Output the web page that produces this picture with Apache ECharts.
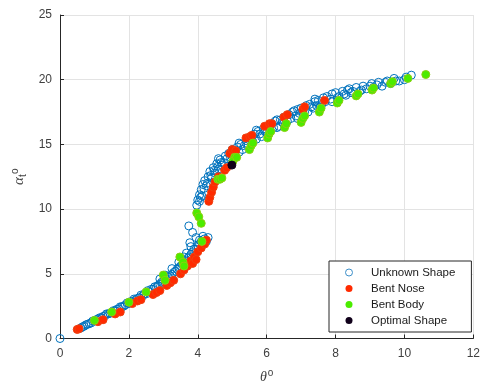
<!DOCTYPE html>
<html>
<head>
<meta charset="utf-8">
<script src="https://cdn.jsdelivr.net/npm/echarts@6/dist/echarts.min.js"></script>
<style>html,body{margin:0;padding:0;background:#fff;}#c{width:483px;height:389px;}</style>
</head>
<body>
<div id="c"></div>
<script>
// ---- data ----
const xTicks = [0, 2, 4, 6, 8, 10, 12];
const yTicks = [0, 5, 10, 15, 20, 25];
const seriesNames = ['Unknown Shape', 'Bent Nose', 'Bent Body', 'Optimal Shape'];

const unknownShape = [
  [0,0],
  [0.6,0.8],[0.7,0.95],[0.8,1.1],[0.9,1.2],[1.0,1.35],[1.1,1.5],[1.2,1.6],[1.3,1.75],[1.4,1.9],[1.5,2.0],
  [1.6,2.15],[1.7,2.3],[1.8,2.45],[1.9,2.6],[2.0,2.7],[2.1,2.85],[2.2,3.0],[2.3,3.15],[2.4,3.3],[2.5,3.45],
  [2.6,3.6],[2.7,3.8],[2.8,4.0],[2.9,4.2],[3.0,4.4],[3.1,4.6],[3.2,4.85],[3.3,5.1],[3.4,5.35],[3.5,5.6],
  [3.6,5.9],[3.7,6.2],[3.8,6.5],[3.9,6.9],[4.0,7.2],[4.1,7.5],[4.2,7.7],[4.3,7.8],
  [0.75,1.05],[0.95,1.35],[1.15,1.6],[1.35,1.9],[1.55,2.15],[1.75,2.45],[1.95,2.75],[2.15,3.05],[2.35,3.35],
  [2.55,3.7],[2.75,4.0],[2.95,4.35],[3.15,4.75],[3.35,5.2],[3.55,5.7],[3.75,6.3],[3.95,6.9],
  [2.9,4.6],[3.05,4.9],[3.25,5.4],[3.45,5.9],[3.6,6.3],
  [0.65,0.9],[0.85,1.15],[1.05,1.45],[1.25,1.7],[1.45,1.95],[1.65,2.25],[1.85,2.5],[2.05,2.85],[2.25,3.1],
  [2.45,3.45],[2.65,3.8],[2.85,4.1],[3.05,4.5],[3.25,4.95],[3.45,5.45],[3.65,6.0],[3.85,6.7],[4.05,7.3],[4.25,7.5],
  [3.74,8.7],[3.85,8.2],[3.77,7.4],[4.15,7.9],[4.05,7.6],[3.95,7.8],[3.67,6.6],[3.8,7.1],
  [3.97,10.3],[4.0,10.7],[4.05,11.1],[4.1,11.5],[4.15,11.9],[4.2,12.2],[4.3,12.5],[4.35,12.9],[4.45,13.2],
  [4.5,12.8],[4.55,13.5],[4.65,13.8],[4.7,13.4],[4.8,14.1],[4.9,14.3],[5.0,14.6],[5.05,14.2],[5.15,14.8],
  [5.25,15.0],[5.3,14.6],[5.4,15.3],[5.5,15.5],[5.6,15.2],[5.65,15.8],[5.75,16.0],[5.85,15.6],[5.9,16.2],
  [6.0,16.4],[6.1,16.1],[6.15,16.6],[6.25,16.8],[6.35,16.4],[6.4,16.9],[6.5,17.1],[6.6,16.8],[6.65,17.3],
  [6.75,17.5],[6.85,17.2],[6.9,17.7],[7.0,17.8],[7.1,17.5],[7.15,18.0],[7.25,18.1],[7.35,17.8],[7.4,18.3],
  [7.5,18.4],[7.6,18.1],[7.65,18.6],[7.75,18.7],[7.85,18.5],[7.9,18.9],[8.0,19.0],[8.1,18.7],[8.2,19.1],
  [8.35,19.2],[8.5,19.1],[8.6,19.4],[8.8,19.5],[8.9,19.3],[9.05,19.7],[9.25,19.8],[9.35,19.5],[9.5,19.9],
  [9.7,20.1],[9.85,19.9],[10.2,20.35],
  [4.05,10.6],[4.12,11.0],[4.25,11.8],[4.4,12.4],[4.6,13.1],[4.75,13.6],[4.95,14.0],[5.2,14.4],[5.45,14.9],
  [5.7,15.4],[6.0,15.9],[6.3,16.3],[6.55,16.6],[6.9,17.0],[7.2,17.5],[7.55,17.9],[7.9,18.3],[8.3,18.8],
  [8.7,19.1],[9.1,19.4],[9.6,19.7],[10.0,20.0],
  [4.08,10.9],[4.18,11.6],[4.28,12.0],[4.38,12.6],[4.48,13.0],[4.58,13.3],[4.68,13.6],[4.85,13.9],[5.1,14.5],
  [5.35,14.9],[5.55,15.4],[5.8,15.8],[5.95,16.0],[6.2,16.3],[6.45,16.7],[6.7,17.0],[6.95,17.4],[7.05,17.6],
  [7.3,17.9],[7.45,18.0],[7.7,18.3],[8.05,18.6],[8.25,18.9],[8.45,19.0],[8.75,19.2],[9.0,19.5],[9.2,19.6],
  [9.45,19.8],[9.75,19.9],[10.05,20.2],
  [4.6,13.9],[5.2,15.1],[5.7,16.1],[6.3,16.9],[6.8,17.6],[7.4,18.5],[8.4,19.3]
];

const bentNose = [
  [0.5,0.7],[0.55,0.75],[1.1,1.3],[1.25,1.45],[1.6,1.9],[1.75,2.05],[2.1,2.7],[2.25,2.9],[2.35,3.0],
  [2.7,3.4],[2.8,3.55],[2.9,3.7],[3.1,4.1],[3.2,4.3],[3.3,4.5],[3.5,5.0],[3.6,5.3],[3.7,5.6],[3.8,6.0],
  [3.85,5.8],[3.9,6.3],[3.95,6.1],[4.0,6.7],[4.1,7.0],[4.2,7.3],[4.25,7.6],
  [4.32,10.6],[4.35,10.9],[4.4,11.3],[4.45,11.7],[4.5,12.1],[4.6,12.5],[4.78,13.0],[4.84,13.2],
  [4.93,14.3],[5.0,14.6],[5.1,14.5],[5.4,15.5],[5.51,15.6],[5.57,15.7],[5.94,16.4],[6.08,16.6],[6.15,16.6],
  [6.5,17.1],[6.6,17.3],[7.05,17.7],[7.1,17.9],[7.68,18.4]
];

const bentBody = [
  [1.0,1.4],[1.5,2.05],[2.0,2.8],[2.5,3.6],[3.0,4.9],[3.05,4.5],[3.48,6.3],[3.57,5.9],[3.6,5.6],[4.12,7.5],
  [3.97,9.7],[4.03,9.4],[4.1,8.9],[4.58,12.3],[4.64,12.3],[4.7,12.4],[5.07,14.0],[5.02,13.7],[5.13,14.0],
  [5.5,14.6],[5.55,14.9],[5.6,15.1],[6.03,15.5],[6.07,15.8],[6.12,16.0],[6.52,16.3],[6.57,16.6],
  [7.0,16.7],[7.05,17.0],[7.1,17.2],[7.53,17.5],[7.58,17.8],[8.05,18.2],[8.1,18.4],[8.6,18.75],[8.65,18.9],
  [9.06,19.2],[9.1,19.35],[9.6,19.7],[9.65,19.85],[10.1,20.1],[10.62,20.4]
];

const optimalShape = [[4.99,13.4]];

// ---- chart ----
const chart = echarts.init(document.getElementById('c'), null, {renderer: 'canvas'});
const tickFont = {fontFamily: 'Liberation Sans, Arial, sans-serif', fontSize: 12, color: '#404040'};
const gridColor = '#e3e3e3';
const axisColor = '#262626';
const colors = {
  unknown: '#0072BD',
  nose: '#ff2a00', noseEdge: '#f04010',
  body: '#4bec00', bodyEdge: '#8ccf10',
  optimal: '#10001a'
};

function mk(name, data, color, border, z) {
  return {
    name: name, type: 'scatter', data: data, symbol: 'circle', symbolSize: 8, z: z,
    itemStyle: {color: color, borderColor: border, borderWidth: 1, opacity: 1},
    emphasis: {disabled: true}
  };
}

chart.setOption({
  animation: false,
  backgroundColor: '#fff',
  grid: {left: 60, right: 8, top: 15, bottom: 50, containLabel: false},
  xAxis: {
    type: 'value', min: xTicks[0], max: xTicks[xTicks.length - 1], interval: 2,
    name: '{t|θ}{s|o}', nameLocation: 'middle', nameGap: 30,
    nameTextStyle: {rich: {
      t: {fontFamily: 'Liberation Serif, serif', fontStyle: 'italic', fontSize: 14, color: '#404040'},
      s: {fontFamily: 'Liberation Sans, sans-serif', fontSize: 10, color: '#404040', padding: [0, 0, 7, 1]}
    }},
    axisLine: {show: true, lineStyle: {color: axisColor, width: 1}},
    axisTick: {show: true, inside: true, length: 4, lineStyle: {color: axisColor}},
    axisLabel: Object.assign({margin: 9}, tickFont),
    splitLine: {show: true, lineStyle: {color: gridColor, width: 1}}
  },
  yAxis: {
    type: 'value', min: yTicks[0], max: yTicks[yTicks.length - 1], interval: 5,
    name: '{a|α}{b|t}{c|o}', nameLocation: 'middle', nameGap: 28, nameRotate: 90,
    nameTextStyle: {rich: {
      a: {fontFamily: 'Liberation Serif, serif', fontStyle: 'italic', fontSize: 15, color: '#404040'},
      b: {fontFamily: 'Liberation Sans, sans-serif', fontSize: 10, color: '#404040', padding: [7, 0, 0, 1], width: 1},
      c: {fontFamily: 'Liberation Sans, sans-serif', fontSize: 10, color: '#404040', padding: [0, 0, 8, 1]}
    }},
    axisLine: {show: true, lineStyle: {color: axisColor, width: 1}},
    axisTick: {show: true, inside: true, length: 4, lineStyle: {color: axisColor}},
    axisLabel: Object.assign({margin: 8}, tickFont),
    splitLine: {show: true, lineStyle: {color: gridColor, width: 1}}
  },
  legend: {
    orient: 'vertical', left: 329, top: 261,
    padding: [5, 16, 5, 16],
    backgroundColor: '#fff', borderColor: '#262626', borderWidth: 1, borderRadius: 0,
    itemWidth: 34, itemHeight: 7, itemGap: 3,
    textStyle: {fontFamily: 'Liberation Sans, Arial, sans-serif', fontSize: 11.5, color: '#1a1a1a', lineHeight: 13},
    data: [
      {name: seriesNames[0], icon: 'circle', itemStyle: {color: '#fff', borderColor: '#3d8fc9', borderWidth: 1}},
      {name: seriesNames[1], icon: 'circle', itemStyle: {color: colors.nose, borderColor: colors.nose, borderWidth: 0}},
      {name: seriesNames[2], icon: 'circle', itemStyle: {color: colors.body, borderColor: colors.body, borderWidth: 0}},
      {name: seriesNames[3], icon: 'circle', itemStyle: {color: colors.optimal, borderColor: colors.optimal, borderWidth: 0}}
    ]
  },
  series: [
    mk(seriesNames[0], unknownShape, 'transparent', colors.unknown, 2),
    mk(seriesNames[1], bentNose, colors.nose, colors.noseEdge, 3),
    mk(seriesNames[2], bentBody, colors.body, colors.bodyEdge, 4),
    mk(seriesNames[3], optimalShape, colors.optimal, colors.optimal, 5)
  ]
});
</script>
</body>
</html>
